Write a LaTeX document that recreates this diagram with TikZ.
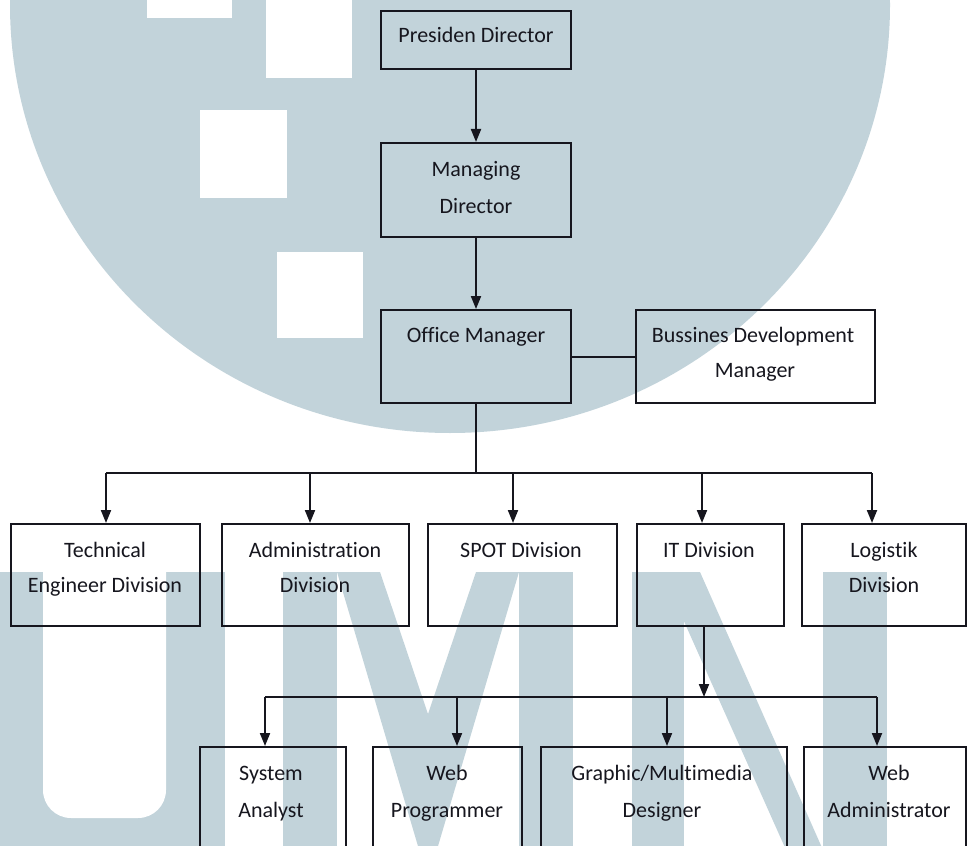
\documentclass[tikz,border=0pt]{standalone}
\usepackage{fontspec}
\setmainfont{Carlito}[Ligatures=NoCommon]
\usetikzlibrary{arrows.meta}
\definecolor{wm}{RGB}{194,211,218}
\definecolor{ink}{RGB}{22,22,30}
\begin{document}
\begin{tikzpicture}[x=1pt,y=-1pt,
  box/.style={draw=ink, line width=2pt, inner sep=0pt, rectangle},
  txt/.style={anchor=base, inner sep=0pt, font=\fontsize{22}{35}\selectfont, text=ink},
  link/.style={draw=ink, line width=2pt},
  arr/.style={link, -{Triangle[width=10pt,length=13pt]}}]

\useasboundingbox (0,0) rectangle (968,845);
\clip (0,0) rectangle (968,845);

% ---- watermark (UMN logo) ----
\fill[wm] (450,5) ellipse [x radius=440, y radius=428];
\fill[white] (147,-5) rectangle (232,18);
\fill[white] (266,-5) rectangle (352,78);
\fill[white] (200,110) rectangle (287,198);
\fill[white] (277,252) rectangle (363,338);
% U
\fill[wm] (-20,572) rectangle (225,870);
\fill[white, rounded corners=28pt] (43,540) rectangle (166,818);
% M
\fill[wm] (283,572) rectangle (337,870);
\fill[wm] (519,572) rectangle (573,870);
\fill[wm] (337,572) -- (380,572) -- (428,714) -- (476,572) -- (519,572) -- (428,880) -- cycle;
% N
\fill[wm] (632,572) rectangle (684,870);
\fill[wm] (632,572) -- (700,572) -- (823,850) -- (823,870) -- (795,870) -- (670,590) -- (632,590) -- cycle;
\fill[wm] (823,572) rectangle (887,870);

% ---- boxes ----
\node[box, minimum width=190pt, minimum height=58pt] (pd) at (476,40) {};
\node[box, minimum width=190pt, minimum height=94pt] (md) at (476,190) {};
\node[box, minimum width=190pt, minimum height=93pt] (om) at (476,356.5) {};
\node[box, minimum width=239pt, minimum height=93pt] (bdm) at (755.5,356.5) {};

\node[box, minimum width=189pt, minimum height=102pt] (ted) at (105.5,575) {};
\node[box, minimum width=187pt, minimum height=102pt] (adm) at (315.5,575) {};
\node[box, minimum width=189pt, minimum height=102pt] (spot) at (522.5,575) {};
\node[box, minimum width=147pt, minimum height=102pt] (itd) at (710.5,575) {};
\node[box, minimum width=164pt, minimum height=102pt] (log) at (884,575) {};

\node[box, minimum width=146pt, minimum height=133pt] (sa) at (273,813.5) {};
\node[box, minimum width=149pt, minimum height=133pt] (wp) at (447.5,813.5) {};
\node[box, minimum width=246pt, minimum height=133pt] (gmd) at (664,813.5) {};
\node[box, minimum width=162pt, minimum height=133pt] (wa) at (885,813.5) {};

% ---- texts ----
\node[txt] (pdt) at (476,43) {Presiden Director};
\node[txt] (mdt1) at (476,177) {Managing};
\node[txt] (mdt2) at (476,213) {Director};
\node[txt] (omt) at (476,342) {Office Manager};
\node[txt] (bdt1) at (753,342) {Bussines Development};
\node[txt] (bdt2) at (755,377) {Manager};

\node[txt] (tedt1) at (105,557) {Technical};
\node[txt] (tedt2) at (105,592) {Engineer Division};
\node[txt] (admt1) at (315,557) {Administration};
\node[txt] (admt2) at (315,592) {Division};
\node[txt] (spott) at (521,557) {SPOT Division};
\node[txt] (itdt) at (709,557) {IT Division};
\node[txt] (logt1) at (884,557) {Logistik};
\node[txt] (logt2) at (884,592) {Division};

\node[txt] (sat1) at (271,780) {System};
\node[txt] (sat2) at (271,817) {Analyst};
\node[txt] (wpt1) at (447,780) {Web};
\node[txt] (wpt2) at (447,817) {Programmer};
\node[txt] (gmdt1) at (662,780) {Graphic/Multimedia};
\node[txt] (gmdt2) at (662,817) {Designer};
\node[txt] (wat1) at (889,780) {Web};
\node[txt] (wat2) at (889,817) {Administrator};

% ---- connectors ----
\draw[arr] (pd) -- (md);
\draw[arr] (md) -- (om);
\draw[link] (om) -- (bdm);

\coordinate (bus) at (476,473);
\coordinate (d1) at (106,473);
\coordinate (d2) at (310,473);
\coordinate (d3) at (513,473);
\coordinate (d4) at (702,473);
\coordinate (d5) at (872,473);
\draw[link] (om.south) -- (bus);
\draw[link] (d1) -- (d5);
\draw[arr] (d1) -- (d1 |- ted.north);
\draw[arr] (d2) -- (d2 |- adm.north);
\draw[arr] (d3) -- (d3 |- spot.north);
\draw[arr] (d4) -- (d4 |- itd.north);
\draw[arr] (d5) -- (d5 |- log.north);

\coordinate (sb) at (704,697);
\coordinate (s1) at (265,697);
\coordinate (s2) at (457,697);
\coordinate (s3) at (667,697);
\coordinate (s4) at (877,697);
\draw[arr] (itd.south -| sb) -- (sb);
\draw[link] (s1) -- (s4);
\draw[arr] (s1) -- (s1 |- sa.north);
\draw[arr] (s2) -- (s2 |- wp.north);
\draw[arr] (s3) -- (s3 |- gmd.north);
\draw[arr] (s4) -- (s4 |- wa.north);
\end{tikzpicture}
\end{document}
